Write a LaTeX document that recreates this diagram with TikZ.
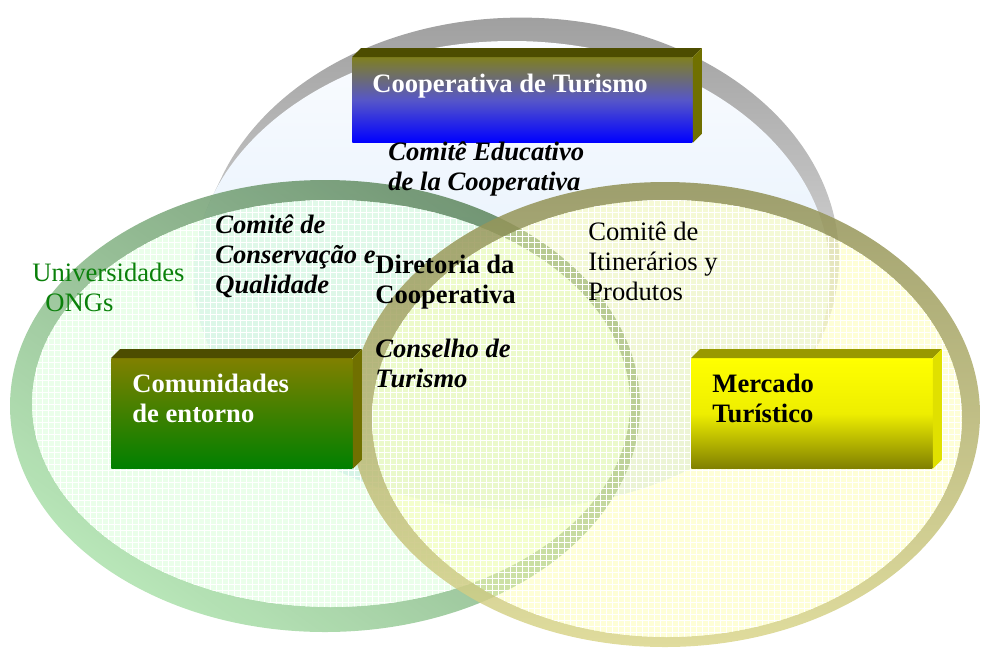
\documentclass[tikz,border=0pt]{standalone}
\usepackage{fontspec}
\setmainfont{Liberation Serif}
\usetikzlibrary{positioning,patterns}

\definecolor{grayring}{RGB}{160,160,160}
\definecolor{topinA}{RGB}{250,252,255}
\definecolor{topinB}{RGB}{214,232,250}
\definecolor{greenringA}{RGB}{92,132,92}
\definecolor{greenringB}{RGB}{172,226,172}
\definecolor{greenin}{RGB}{214,254,214}
\definecolor{yellowringA}{RGB}{144,144,85}
\definecolor{yellowringB}{RGB}{218,214,140}
\definecolor{yellowin}{RGB}{254,254,176}
\definecolor{ongsgreen}{RGB}{10,128,10}
\definecolor{coopA}{RGB}{128,128,32}
\definecolor{coopB}{RGB}{86,86,200}
\definecolor{coopC}{RGB}{0,0,255}
\definecolor{darkolive}{RGB}{77,77,0}
\definecolor{olive}{RGB}{112,112,0}
\definecolor{comA}{RGB}{128,128,0}
\definecolor{comB}{RGB}{0,128,0}
\definecolor{merA}{RGB}{255,255,0}
\definecolor{merB}{RGB}{238,238,0}
\definecolor{merC}{RGB}{128,128,0}
\definecolor{mertop}{RGB}{153,153,0}
\definecolor{merside}{RGB}{224,224,0}

% top and right faces of a raised box
\newcommand{\boxfaces}[3]{%
  \fill[#2] (#1.north west) -- ++(9,-9) -- ([shift={(9,-9)}]#1.north east) -- (#1.north east) -- cycle;
  \fill[#3] (#1.north east) -- ++(9,-9) -- ([shift={(9,-9)}]#1.south east) -- (#1.south east) -- cycle;
}

\tikzset{
  lbl/.style={inner sep=0pt, anchor=base west, align=left, font=\fontsize{13.3}{15}\selectfont},
  boldlbl/.style={lbl, font=\fontsize{13.3}{15}\selectfont\bfseries},
  bolditalic/.style={lbl, font=\fontsize{13.3}{15}\selectfont\bfseries\itshape},
  boldwhite/.style={boldlbl, text=white},
  box/.style={shade, inner sep=0pt, anchor=north west},
  grid fill/.style={pattern=grid, pattern color=white, fill opacity=0.18},
}

\begin{document}
\begin{tikzpicture}[x=0.5pt, y=-0.5pt]
    \useasboundingbox (0,0) rectangle (981,650);

    % Gray ellipse (ring pushed up and right)
    \shade[top color=grayring, bottom color=white]
        \foreach \t in {0,0.1,...,1} {(512+10*\t,275-18*\t) ellipse (318 and {234+8*\t})};
    \shade[top color=topinA, bottom color=topinB] (512,275) ellipse (318 and 234);

    % Green ellipse
    \shade[top color=greenringA, bottom color=greenringB, shading angle=-35, even odd rule, fill opacity=0.85]
        (325,406) ellipse (315 and 226) (331,403.5) ellipse (299 and 203.5);
    \fill[greenin, fill opacity=0.5] (331,403.5) ellipse (299 and 203.5);
    \fill[grid fill] (331,403.5) ellipse (299 and 203.5);

    % Yellow ellipse
    \shade[top color=yellowringA, bottom color=yellowringB, even odd rule, fill opacity=0.85]
        (665,414.5) ellipse (315 and 232.5) (667,418.5) ellipse (295 and 218.5);
    \fill[yellowin, fill opacity=0.5] (667,418.5) ellipse (295 and 218.5);
    \fill[grid fill] (667,418.5) ellipse (295 and 218.5);

    % Boxes
    \node[box, minimum width=170pt, minimum height=42.5pt,
          top color=coopA, bottom color=coopC, middle color=coopB] (coop) at (352,57) {};
    \boxfaces{coop}{darkolive}{olive}
    \node[box, minimum width=120.5pt, minimum height=55pt,
          top color=comA, bottom color=comB] (comun) at (111,358) {};
    \boxfaces{comun}{darkolive}{olive}
    \node[box, minimum width=120.5pt, minimum height=55pt,
          top color=merA, bottom color=merC, middle color=merB] (merc) at (691,358) {};
    \boxfaces{merc}{mertop}{merside}

    % Labels (placed at the baseline of their last line)
    \node[boldwhite] (cooptxt) at (372,92) {Cooperativa de Turismo};
    \node[boldwhite] (comuntxt) at (132,422) {Comunidades\\de entorno};
    \node[boldlbl] (merctxt) at (712,422) {Mercado\\Turístico};
    \node[bolditalic] (educ) at (388,190) {Comitê Educativo\\de la Cooperativa};
    \node[bolditalic] (conserv) at (215,293) {Comitê de\\Conservação e\\Qualidade};
    \node[boldlbl] (diret) at (375,303) {Diretoria da\\Cooperativa};
    \node[bolditalic] (conselho) at (375,387) {Conselho de\\Turismo};
    \node[lbl] (itiner) at (588,300) {Comitê de\\Itinerários y\\Produtos};
    \node[lbl, text=ongsgreen] (univ) at (32,311) {Universidades\\\hspace*{6.5pt}ONGs};
\end{tikzpicture}
\end{document}
